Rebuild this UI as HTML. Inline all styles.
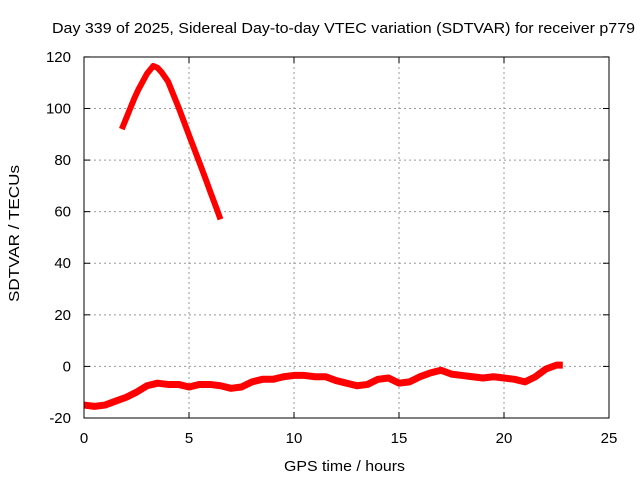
<!DOCTYPE html>
<html><head><meta charset="utf-8"><style>
body{margin:0;background:#fff}
svg{display:block;font-family:"Liberation Sans",sans-serif}
</style></head><body>
<svg id="chart" width="640" height="480" viewBox="0 0 640 480">
<text x="52" y="33" font-size="15" textLength="583" lengthAdjust="spacingAndGlyphs">Day 339 of 2025, Sidereal Day-to-day VTEC variation (SDTVAR) for receiver p779</text>
<g id="grid"></g>
<g id="ticks"></g>
<g id="series"></g>
<rect x="84" y="57" width="525" height="361" fill="none" stroke="#000" stroke-width="1"/>
<text x="284" y="471" font-size="15" textLength="121" lengthAdjust="spacingAndGlyphs">GPS time / hours</text>
<text transform="translate(19,302) rotate(-90)" font-size="15" textLength="137" lengthAdjust="spacingAndGlyphs">SDTVAR / TECUs</text>
</svg>
<script>
const xTicks=[0,5,10,15,20,25];
const yTicks=[-20,0,20,40,60,80,100,120];
const arcX=[1.8,2.0,2.2,2.4,2.6,2.8,3.0,3.2,3.3,3.5,3.7,4.0,4.2,4.5,4.8,5.1,5.5,5.8,6.0,6.3,6.5];
const arcY=[92,96,100,104,107.5,110.5,113.5,115.5,116.5,115.8,114,110.5,106.5,100.5,94,87.5,79,72.5,68,61.5,57];
const bandX=[0,0.5,1,1.5,2,2.5,3,3.5,4,4.5,5,5.5,6,6.5,7,7.5,8,8.5,9,9.5,10,10.5,11,11.5,12,12.5,13,13.5,14,14.5,15,15.5,16,16.5,17,17.5,18,18.5,19,19.5,20,20.5,21,21.5,22,22.5,22.8];
const bandY=[-15,-15.5,-15,-13.5,-12,-10,-7.5,-6.5,-7,-7,-8,-7,-7,-7.5,-8.5,-8,-6,-5,-5,-4,-3.5,-3.5,-4,-4,-5.5,-6.5,-7.5,-7,-5,-4.5,-6.5,-6,-4,-2.5,-1.5,-3,-3.5,-4,-4.5,-4,-4.5,-5,-6,-4,-1,0.5,0.5];
const X=v=>84+v*21, Y=v=>366.4-v*2.579;
const NS="http://www.w3.org/2000/svg";
const mk=(t,a)=>{const e=document.createElementNS(NS,t);for(const k in a)e.setAttribute(k,a[k]);return e;};
const g=document.getElementById('grid'),tk=document.getElementById('ticks'),s=document.getElementById('series');
xTicks.forEach(v=>{
 if(v>0&&v<25){const l=mk('line',{x1:X(v),x2:X(v),y1:57,y2:418,stroke:'#999','stroke-dasharray':'2,3'});
 
 g.appendChild(l);}
 const m1=mk('line',{x1:X(v),x2:X(v),y1:418,y2:412,stroke:'#000'});
 
 tk.appendChild(m1);
 const m2=mk('line',{x1:X(v),x2:X(v),y1:57,y2:63,stroke:'#000'});
 
 tk.appendChild(m2);
 const t=mk('text',{x:X(v),y:443,'font-size':15,'text-anchor':'middle'});t.textContent=v;
 
 tk.appendChild(t);
});
yTicks.forEach(v=>{
 if(v>-20&&v<120){const l=mk('line',{x1:84,x2:609,y1:Y(v),y2:Y(v),stroke:'#999','stroke-dasharray':'2,3'});
 
 g.appendChild(l);}
 const m1=mk('line',{x1:84,x2:90,y1:Y(v),y2:Y(v),stroke:'#000'});
 
 tk.appendChild(m1);
 const m2=mk('line',{x1:603,x2:609,y1:Y(v),y2:Y(v),stroke:'#000'});
 
 tk.appendChild(m2);
 const t=mk('text',{x:71,y:Y(v)+5,'font-size':15,'text-anchor':'end'});t.textContent=v;
 
 tk.appendChild(t);
});
const p1=mk('polyline',{points:arcX.map((v,i)=>X(v)+','+Y(arcY[i])).join(' '),fill:'none',stroke:'#f00','stroke-width':6,'stroke-linejoin':'round'});

s.appendChild(p1);
const p2=mk('polyline',{points:bandX.map((v,i)=>X(v)+','+Y(bandY[i])).join(' '),fill:'none',stroke:'#f00','stroke-width':7,'stroke-linejoin':'round'});

s.appendChild(p2);
</script>
</body></html>
